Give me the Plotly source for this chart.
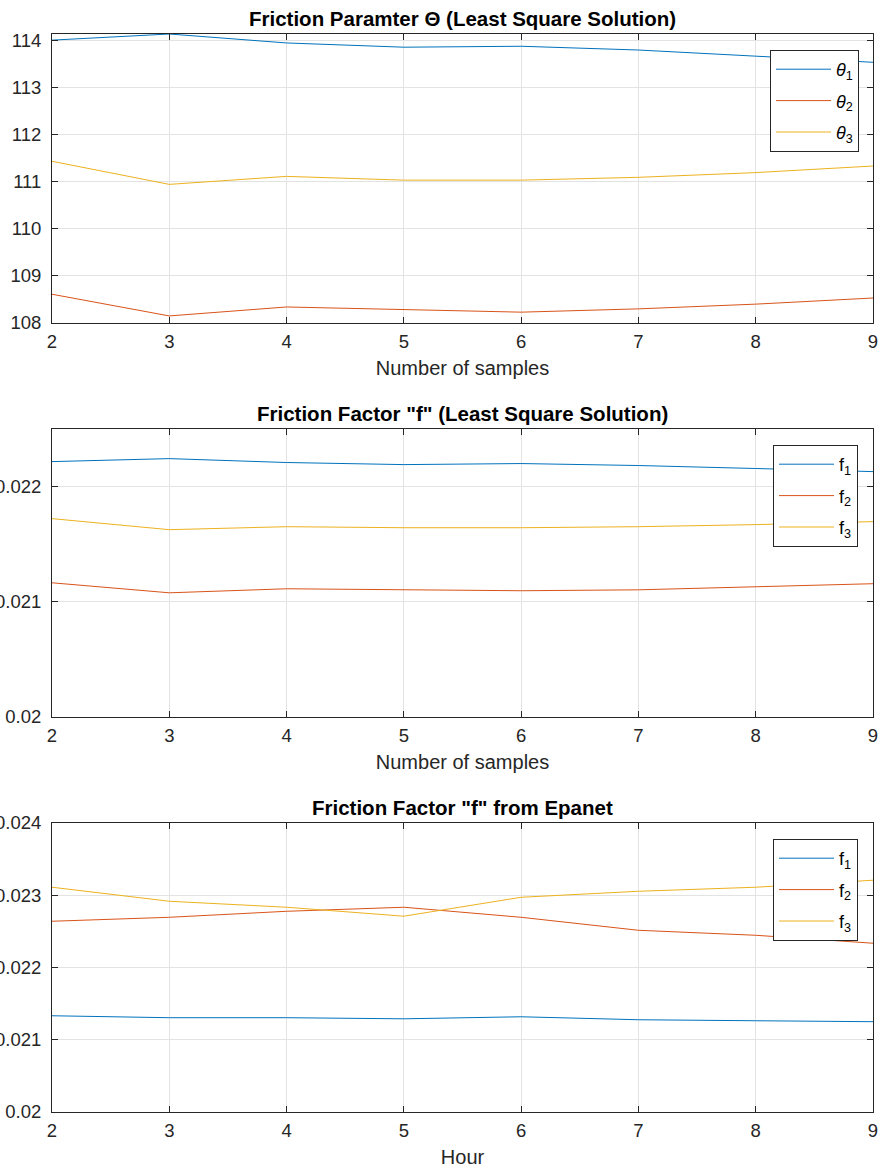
import plotly.graph_objects as go

x_vals = [2, 3, 4, 5, 6, 7, 8, 9]

theta1 = [114.00, 114.13, 113.94, 113.85, 113.87, 113.79, 113.66, 113.53]
theta2 = [108.61, 108.15, 108.34, 108.28, 108.23, 108.30, 108.40, 108.53]
theta3 = [111.43, 110.94, 111.11, 111.03, 111.03, 111.09, 111.19, 111.33]

ls_f1 = [0.022217, 0.022243, 0.022209, 0.022191, 0.022200, 0.022183, 0.022157, 0.022130]
ls_f2 = [0.021165, 0.021078, 0.021113, 0.021104, 0.021096, 0.021104, 0.021130, 0.021157]
ls_f3 = [0.021722, 0.021626, 0.021652, 0.021643, 0.021643, 0.021652, 0.021670, 0.021696]

ep_f1 = [0.021332, 0.021305, 0.021305, 0.021290, 0.021318, 0.021277, 0.021263, 0.021250]
ep_f2 = [0.022640, 0.022695, 0.022778, 0.022834, 0.022695, 0.022515, 0.022446, 0.022336]
ep_f3 = [0.023111, 0.022917, 0.022834, 0.022710, 0.022972, 0.023055, 0.023111, 0.023208]

titles = ["Friction Paramter Θ (Least Square Solution)",
          'Friction Factor "f" (Least Square Solution)',
          'Friction Factor "f" from Epanet']
xlabels = ["Number of samples", "Number of samples", "Hour"]
theta_names = ["<i>θ</i><sub>1</sub>", "<i>θ</i><sub>2</sub>", "<i>θ</i><sub>3</sub>"]
f_names = ["f<sub>1</sub>", "f<sub>2</sub>", "f<sub>3</sub>"]

colors = ["#0072BD", "#D95319", "#EDB120"]
W, H = 879, 1173
FONT = "Liberation Sans, Arial, Helvetica, sans-serif"
AX = "#262626"

# pixel layout of the three axes (top, bottom)
boxes = [(34, 323), (429, 717), (823, 1112)]
xl, xr = 52, 873

fig = go.Figure()

series = [
    (theta_names, [theta1, theta2, theta3]),
    (f_names, [ls_f1, ls_f2, ls_f3]),
    (f_names, [ep_f1, ep_f2, ep_f3]),
]
yranges = [[108, 114.13], [0.02, 0.0225], [0.02, 0.024]]
ytickvals = [[108, 109, 110, 111, 112, 113, 114],
             [0.02, 0.021, 0.022],
             [0.02, 0.021, 0.022, 0.023, 0.024]]
yticktext = [[str(v) for v in ytickvals[0]],
             ["0.02", "0.021", "0.022"],
             ["0.02", "0.021", "0.022", "0.023", "0.024"]]

for i, (names, ys) in enumerate(series):
    ax_suffix = "" if i == 0 else str(i + 1)
    leg = "legend" if i == 0 else f"legend{i + 1}"
    for k, (name, y, c) in enumerate(zip(names, ys, colors)):
        fig.add_trace(go.Scatter(x=x_vals, y=y, mode="lines", name=name,
                                 line=dict(color=c, width=1),
                                 legendgroup=f"g{i}_{k}",
                                 xaxis="x" + ax_suffix, yaxis="y" + ax_suffix,
                                 legend=leg))
    top, bot = boxes[i]
    axis_common = dict(showline=True, linecolor=AX, linewidth=1, mirror="ticks",
                       ticks="inside", ticklen=6, tickcolor=AX,
                       showgrid=True, gridcolor="#E3E3E3", gridwidth=1,
                       zeroline=False, automargin=False, ticklabeloverflow="allow",
                       tickfont=dict(family=FONT, size=18.5, color=AX))
    fig.update_layout(**{
        "xaxis" + ax_suffix: dict(domain=[xl / W, xr / W], range=[2, 9],
                                  anchor="y" + ax_suffix,
                                  tickvals=x_vals, ticklabelstandoff=2,
                                  title=dict(text=xlabels[i], standoff=9,
                                             font=dict(family=FONT, size=20, color=AX)),
                                  **axis_common),
        "yaxis" + ax_suffix: dict(domain=[1 - bot / H, 1 - top / H], range=yranges[i],
                                  anchor="x" + ax_suffix,
                                  tickvals=ytickvals[i], ticktext=yticktext[i],
                                  ticklabelstandoff=6,
                                  **axis_common),
        leg: dict(x=(770 if i == 0 else 773) / W, y=1 - (top + 16) / H,
                  xanchor="left", yanchor="top",
                  bgcolor="white", bordercolor=AX, borderwidth=1,
                  itemwidth=55, tracegroupgap=5,
                  font=dict(family=FONT, size=18, color="#000000")),
    })
    fig.add_annotation(x=(xl + xr) / 2 / W, y=1 - (top - 16) / H, xref="paper", yref="paper",
                       text=f"<b>{titles[i]}</b>", showarrow=False,
                       xanchor="center", yanchor="middle",
                       font=dict(family=FONT, size=20.5, color="#000000"))

fig.update_layout(width=W, height=H, margin=dict(l=0, r=0, t=0, b=0),
                  paper_bgcolor="white", plot_bgcolor="white", showlegend=True)

fig.write_html("out.html", config={"displayModeBar": False},
               post_script="document.body.style.margin='0';document.body.style.padding='0';")
